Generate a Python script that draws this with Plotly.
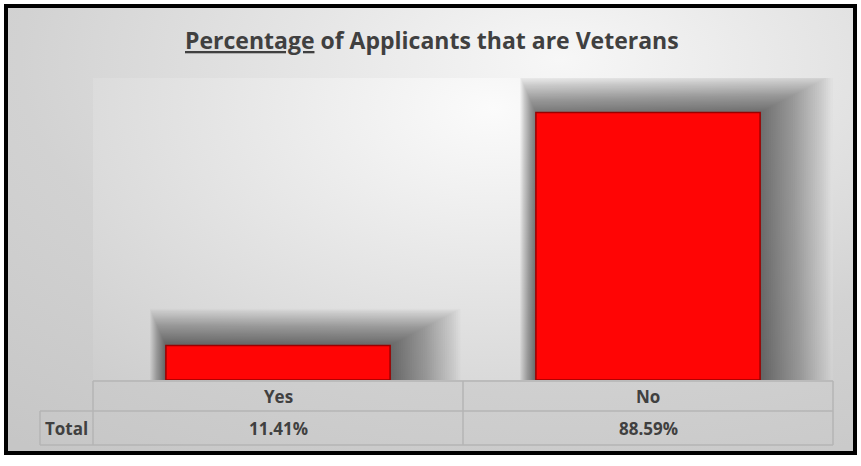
import plotly.graph_objects as go

# ---- data ----
categories = ["Yes", "No"]
values = [11.41, 88.59]
row_label = "Total"
title_main = "Percentage"
title_rest = " of Applicants that are Veterans"

W, H = 861, 466
def px(x): return x / W
def py(y): return 1 - y / H

# plot area in pixels
PL, PR, PT, PB = 93, 833, 78, 380
cat_px = (PR - PL) / len(categories)
px_per_unit = (PB - PT) / 100.0
bar_w = 0.606

TXT = "#404040"
FONT = "Open Sans"

fig = go.Figure()

# ---- outer background (radial gradient) ----
cx, cy, hx, hy = 560, 60, 900, 480
fig.add_trace(go.Scatter(
    x=[cx - hx, cx + hx, cx + hx, cx - hx, cx - hx],
    y=[cy - hy, cy - hy, cy + hy, cy + hy, cy - hy],
    fill="toself", mode="lines", line=dict(width=0),
    fillgradient=dict(type="radial", colorscale=[[0, "#f7f7f7"], [0.6, "#d2d2d2"], [1, "#c6c6c6"]]),
    hoverinfo="skip", xaxis="x", yaxis="y"))

# ---- plot area background (radial gradient) ----
cx2, cy2, hx2, hy2 = 400, 30, 700, 450
fig.add_trace(go.Scatter(
    x=[cx2 - hx2, cx2 + hx2, cx2 + hx2, cx2 - hx2, cx2 - hx2],
    y=[cy2 - hy2, cy2 - hy2, cy2 + hy2, cy2 + hy2, cy2 - hy2],
    fill="toself", mode="lines", line=dict(width=0),
    fillgradient=dict(type="radial", colorscale=[[0, "#fbfbfb"], [1, "#c4c4c4"]]),
    hoverinfo="skip", xaxis="x2", yaxis="y2"))

# ---- soft shadows behind bars ----
K = 32
for k in range(1, K + 1):
    l_k, r_k, t_k = 0.5 * k, 2.2 * k, 1.15 * k
    fig.add_trace(go.Bar(
        x=categories, y=[v + t_k / px_per_unit for v in values],
        width=bar_w + (l_k + r_k) / cat_px, offset=-bar_w / 2 - l_k / cat_px,
        marker=dict(color="rgba(0,0,0,0.02)", line=dict(width=0)),
        hoverinfo="skip", xaxis="x3", yaxis="y3"))

# ---- bars ----
fig.add_trace(go.Bar(
    x=categories, y=values, width=bar_w, offset=-bar_w / 2,
    marker=dict(color="#ff0505", line=dict(color="#9a0000", width=1.5)),
    hoverinfo="skip", xaxis="x3", yaxis="y3"))

ax_off = dict(visible=False, showgrid=False, zeroline=False, fixedrange=True)
fig.update_layout(
    width=W, height=H, margin=dict(l=0, r=0, t=0, b=0),
    paper_bgcolor="white", plot_bgcolor="rgba(0,0,0,0)",
    showlegend=False, barmode="overlay",
    xaxis=dict(domain=[px(8), px(853)], range=[8, 853], **ax_off),
    yaxis=dict(domain=[py(451), py(8)], range=[451, 8], **ax_off),
    xaxis2=dict(domain=[px(PL), px(PR)], range=[0, PR - PL], **ax_off),
    yaxis2=dict(domain=[py(PB), py(PT)], range=[PB - PT, 0], **ax_off),
    xaxis3=dict(domain=[px(PL), px(PR)], type="category", range=[-0.5, len(categories) - 0.5], **ax_off),
    yaxis3=dict(domain=[py(PB), py(PT)], range=[0, 100], **ax_off),
)

# ---- data table ----
grid = dict(color="#b4b4b4", width=1.5)
T1, T2, T3 = 381, 411, 445
LBL = 40
lines = [
    (PL, T1, PR, T1), (LBL, T2, PR, T2), (LBL, T3, PR, T3),
    (PL, T1, PL, T3), (LBL, T2, LBL, T3), (PR, T1, PR, T3),
]
for i in range(1, len(categories)):
    xx = PL + i * cat_px
    lines.append((xx, T1, xx, T3))
for x0, y0, x1, y1 in lines:
    fig.add_shape(type="line", xref="paper", yref="paper",
                  x0=px(x0), y0=py(y0), x1=px(x1), y1=py(y1), line=grid, layer="above")

tfont = dict(family=FONT, size=17, color=TXT, weight=700)
for c, v in zip(categories, values):
    fig.add_annotation(x=c, xref="x3", y=py((T1 + T2) / 2), yref="paper", text=c,
                       showarrow=False, font=tfont, xanchor="center", yanchor="middle")
    fig.add_annotation(x=c, xref="x3", y=py((T2 + T3) / 2), yref="paper", text=f"{v:.2f}%",
                       showarrow=False, font=tfont, xanchor="center", yanchor="middle")
fig.add_annotation(x=px((LBL + PL) / 2), xref="paper", y=py((T2 + T3) / 2), yref="paper",
                   text=row_label, showarrow=False, font=tfont, xanchor="center", yanchor="middle")

# ---- title ----
fig.add_annotation(x=px(432), xref="paper", y=py(40), yref="paper",
                   text=f"<u>{title_main}</u>{title_rest}", showarrow=False,
                   font=dict(family=FONT, size=23, color=TXT, weight=700),
                   xanchor="center", yanchor="middle")

# ---- outer frame ----
fig.add_shape(type="rect", xref="paper", yref="paper",
              x0=px(6), y0=py(6), x1=px(855), y1=py(453),
              line=dict(color="black", width=4), layer="above")

fig.write_html("out.html")
